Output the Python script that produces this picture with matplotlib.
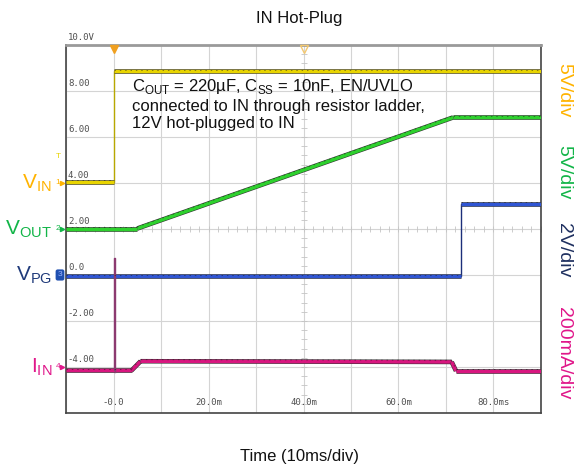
"""
IN hot-plug scope capture: VIN, VOUT, VPG and IIN versus time.
"""

import numpy as np
import matplotlib.pyplot as plt
import matplotlib.patheffects as pe
from matplotlib import transforms

plt.rcParams['font.family'] = ['Liberation Sans', 'DejaVu Sans']

# time axis in ms, vertical in screen units (2 units per division)
t_vin = [-10, 0, 0, 90]
v_in = [4.05, 4.05, 8.85, 8.85]

t_vout = [-10, 5.0, 71.5, 90]
v_out = [2.02, 2.02, 6.85, 6.85]

t_vpg = [-10, 73.2, 73.2, 90]
v_pg = [-0.05, -0.05, 3.1, 3.1]

t_iin = [-10, 3.8, 5.7, 71.2, 72.1, 90]
i_in = [-4.15, -4.15, -3.75, -3.78, -4.17, -4.17]

t_spike = [0.1, 0.1, 0.25, 0.25]
i_spike = [-4.15, 0.75, 0.75, -4.2]

x_ticks = [0, 20, 40, 60, 80]
x_labels = ['-0.0', '20.0m', '40.0m', '60.0m', '80.0ms']
y_ticks = [10, 8, 6, 4, 2, 0, -2, -4]
y_labels = ['10.0V', '8.00', '6.00', '4.00', '2.00', '0.0', '-2.00', '-4.00']

traces = [
    (t_vin, v_in, '#e8d400', '#b8a800'),
    (t_vout, v_out, '#2ed12e', '#1a9a1a'),
    (t_vpg, v_pg, '#2f55d4', '#1c2f7a'),
    (t_iin, i_in, '#d8167f', '#8c2a66'),
]

ch_labels = [
    (r'$\mathregular{V_{IN}}$', 4.0, '#ffb300', '1'),
    (r'$\mathregular{V_{OUT}}$', 2.0, '#12b548', '2'),
    (r'$\mathregular{V_{PG}}$', 0.0, '#1f3a7a', '3'),
    (r'$\mathregular{I_{IN}}$', -4.0, '#e0178a', '4'),
]

scales = [('5V/div', 90, '#ffb300'), ('5V/div', 172, '#12b548'),
          ('2V/div', 250, '#1f3060'), ('200mA/div', 353, '#e0178a')]


def draw_trace(ax, t, v, color, edge):
    t = np.asarray(t, float)
    v = np.asarray(v, float)
    # thin line for the whole trace (vertical edges stay thin)
    ax.plot(t, v, color=edge, lw=1.0, zorder=3)
    # thick band on the non-vertical parts
    for i in range(len(t) - 1):
        if t[i + 1] > t[i]:
            ax.plot(t[i:i + 2], v[i:i + 2], color=color, lw=2.5,
                    solid_capstyle='butt', zorder=4,
                    path_effects=[pe.Stroke(linewidth=3.3, foreground='#333333'),
                                  pe.Normal()])
            ax.plot(t[i:i + 2], np.asarray(v[i:i + 2]) + 0.07, color='#111111',
                    lw=0.7, ls=(0, (1.5, 4)), alpha=0.45, zorder=5)


fig = plt.figure(figsize=(5.74, 4.70), dpi=100)
ax = fig.add_axes([0.115, 0.1213, 0.8275, 0.783])
ax.set_xlim(-10, 90)
ax.set_ylim(-6, 10)

# graticule
for x in np.arange(-10, 91, 10):
    ax.axvline(x, color='#d4d4d4', lw=0.8, zorder=1)
for y in np.arange(-6, 11, 2):
    ax.axhline(y, color='#d4d4d4', lw=0.8, zorder=1)
ax.plot(np.arange(-10, 90.1, 2), np.full(51, 2.0), ls='', marker='|',
        ms=4, mew=0.6, color='#c4c4c4', zorder=1)
ax.plot(np.full(41, 40.0), np.arange(-6, 10.1, 0.4), ls='', marker='_',
        ms=4, mew=0.6, color='#c4c4c4', zorder=1)

ax.set_xticks([])
ax.set_yticks([])
for s in ['left', 'right', 'bottom']:
    ax.spines[s].set_color('#444444')
    ax.spines[s].set_linewidth(1.2)
ax.spines['top'].set_color('#9a9a9a')
ax.spines['top'].set_linewidth(2.0)

for t, v, c, e in traces:
    draw_trace(ax, t, v, c, e)
ax.plot(t_spike, i_spike, color='#8c3a70', lw=1.0, zorder=4)

# scope scale labels inside the graticule
for y, lab in zip(y_ticks, y_labels):
    ax.text(-9.6, y + 0.12, lab, fontsize=6.5, family='DejaVu Sans Mono',
            color='#505050', ha='left', va='bottom', zorder=2)
for x, lab in zip(x_ticks, x_labels):
    ax.text(x, -5.75, lab, fontsize=6.5, family='DejaVu Sans Mono',
            color='#505050', ha='center', va='bottom', zorder=2)

# trigger position markers
ax.plot(0, 9.82, marker='v', ms=6, color='#f0a020', clip_on=False, zorder=6)
ax.plot(40, 9.82, marker='v', ms=6, mfc='none', mec='#f3c870', mew=1.0,
        clip_on=False, zorder=6)

# channel labels and ground markers
left = transforms.blended_transform_factory(fig.transFigure, ax.transData)
for lab, y, col, num in ch_labels:
    ax.text(52 / 574, y, lab, transform=left, fontsize=15, color=col,
            ha='right', va='center')
    if num == '3':
        ax.text(60 / 574, y, num, transform=left, fontsize=6, color='#9fb4ff',
                ha='center', va='center',
                bbox=dict(boxstyle='round,pad=0.25', fc='#1f4fb0', ec='none'))
    else:
        ax.text(58 / 574, y, num, transform=left, fontsize=6, color=col,
                ha='center', va='center')
        ax.plot(62 / 574, y, marker='>', ms=3, color=col, transform=left,
                clip_on=False)
ax.text(58 / 574, 5.15, 'T', transform=left, fontsize=6, color='#e8d400',
        ha='center', va='center')

ax.text(3.9, 8.6,
        'C$_\\mathregular{OUT}$ = 220µF, C$_\\mathregular{SS}$ = 10nF, EN/UVLO\n'
        'connected to IN through resistor ladder,\n'
        '12V hot-plugged to IN',
        fontsize=12, color='#111111', ha='left', va='top', linespacing=1.2,
        zorder=7)

# volts/div legend on the right
for lab, yp, col in scales:
    fig.text(564 / 574, 1 - yp / 470, lab, rotation=-90, fontsize=14,
             color=col, ha='center', va='center')

fig.text(0.522, 1 - 18 / 470, 'IN Hot-Plug', fontsize=12, ha='center',
         va='center', color='#111111')
fig.text(0.522, 1 - 456 / 470, 'Time (10ms/div)', fontsize=12, ha='center',
         va='center', color='#111111')

fig.savefig('out.png', dpi=100)
